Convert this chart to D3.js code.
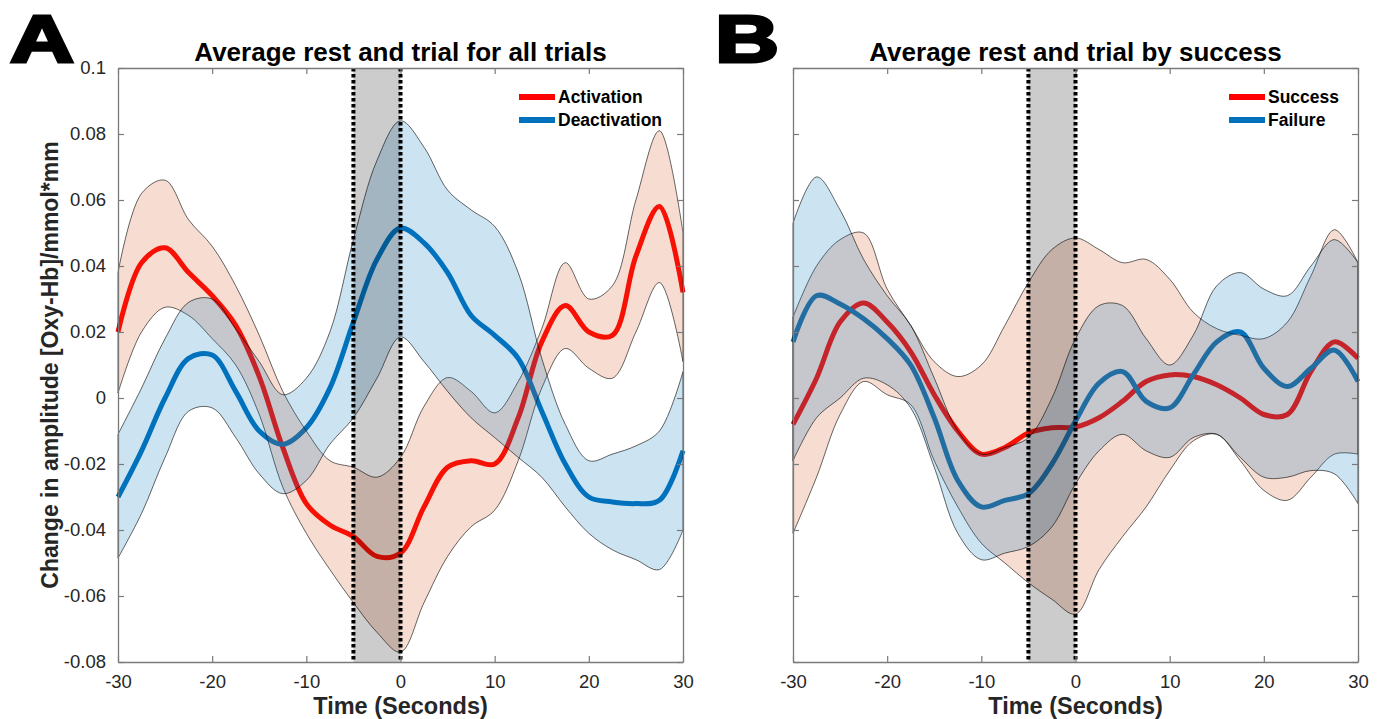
<!DOCTYPE html>
<html>
<head>
<meta charset="utf-8">
<script src="https://cdn.jsdelivr.net/npm/d3@7"></script>
<style>
  body { margin: 0; background: #fff; }
  text { font-family: "Liberation Sans", Arial, sans-serif; }
</style>
</head>
<body>
<svg id="chart"></svg>
<script>
// time axis (seconds), shared by both panels
var time = [-30, -27.5, -25, -22.5, -20, -17.5, -15, -12.5, -10, -7.5, -5, -2.5, 0,
            2.5, 5, 7.5, 10, 12.5, 15, 17.5, 20, 22.5, 25, 27.5, 30];

// panel A - all trials
var activationMean = [0.020, 0.041, 0.0455, 0.038, 0.031, 0.022, 0.0065, -0.015, -0.032, -0.0385, -0.042, -0.048, -0.047,
                      -0.033, -0.021, -0.019, -0.020, -0.006, 0.017, 0.028, 0.020, 0.019, 0.043, 0.058, 0.032];
var activationHigh = [0.038, 0.062, 0.066, 0.054, 0.046, 0.034, 0.019, 0.002, -0.010, -0.019, -0.021, -0.024, -0.018,
                      -0.0025, 0.0062, 0.002, -0.0045, 0.005, 0.021, 0.041, 0.030, 0.034, 0.060, 0.081, 0.050];
var activationLow  = [0.0015, 0.020, 0.0275, 0.025, 0.018, 0.010, -0.005, -0.027, -0.041, -0.052, -0.062, -0.071, -0.077,
                      -0.062, -0.048, -0.039, -0.034, -0.019, 0.003, 0.015, 0.009, 0.006, 0.020, 0.035, 0.011];
var deactivationMean = [-0.030, -0.016, 0.000, 0.012, 0.013, 0.002, -0.010, -0.014, -0.009, 0.003, 0.023, 0.042, 0.0515,
                        0.047, 0.038, 0.025, 0.019, 0.012, -0.004, -0.020, -0.030, -0.0315, -0.032, -0.031, -0.016];
var deactivationHigh = [-0.011, 0.003, 0.018, 0.029, 0.030, 0.021, 0.011, 0.001, 0.006, 0.020, 0.048, 0.072, 0.084,
                        0.076, 0.063, 0.057, 0.052, 0.038, 0.012, -0.008, -0.019, -0.017, -0.0145, -0.010, 0.008];
var deactivationLow  = [-0.0485, -0.035, -0.018, -0.004, -0.003, -0.012, -0.023, -0.029, -0.025, -0.014, -0.006, 0.006, 0.0185,
                        0.011, 0.002, -0.006, -0.012, -0.018, -0.024, -0.033, -0.041, -0.046, -0.049, -0.052, -0.040];

// panel B - by success
var successMean = [-0.008, 0.006, 0.023, 0.0288, 0.023, 0.014, 0.001, -0.010, -0.017, -0.015, -0.0106, -0.009, -0.0088,
                   -0.006, -0.001, 0.005, 0.007, 0.0065, 0.004, 0.000, -0.005, -0.005, 0.008, 0.017, 0.012];
var successHigh = [0.0245, 0.040, 0.048, 0.050, 0.033, 0.022, 0.011, 0.0065, 0.010, 0.022, 0.035, 0.045, 0.0485,
                   0.045, 0.041, 0.042, 0.036, 0.026, 0.021, 0.019, 0.018, 0.023, 0.037, 0.051, 0.041];
var successLow  = [-0.041, -0.024, -0.005, 0.005, 0.001, -0.002, -0.019, -0.033, -0.044, -0.050, -0.056, -0.061, -0.0655,
                   -0.052, -0.042, -0.033, -0.022, -0.013, -0.011, -0.019, -0.028, -0.031, -0.024, -0.017, -0.017];
var failureMean = [0.017, 0.031, 0.0285, 0.024, 0.018, 0.010, -0.006, -0.025, -0.033, -0.031, -0.029, -0.020, -0.007,
                   0.0045, 0.008, -0.001, -0.003, 0.007, 0.017, 0.020, 0.009, 0.0035, 0.009, 0.0145, 0.005];
var failureHigh = [0.053, 0.067, 0.057, 0.042, 0.031, 0.022, 0.006, -0.010, -0.017, -0.015, -0.012, 0.000, 0.018,
                   0.028, 0.028, 0.018, 0.010, 0.019, 0.034, 0.038, 0.033, 0.031, 0.040, 0.048, 0.041];
var failureLow  = [-0.019, -0.006, 0.000, 0.006, 0.004, -0.003, -0.021, -0.041, -0.049, -0.047, -0.045, -0.039, -0.026,
                   -0.016, -0.011, -0.016, -0.018, -0.012, -0.011, -0.018, -0.024, -0.024, -0.022, -0.023, -0.032];

var xTicks = [-30, -20, -10, 0, 10, 20, 30];
var yTicks = [-0.08, -0.06, -0.04, -0.02, 0, 0.02, 0.04, 0.06, 0.08, 0.1];
var window0 = [-5, 0];   // shaded rest -> trial window

var width = 1379, height = 719;
var svg = d3.select("#chart")
    .attr("width", width)
    .attr("height", height);

var plotTop = 68, plotBottom = 662;

function fmt(d) {
    return String(+d.toFixed(2));
}

function panel(opts) {
    var x = d3.scaleLinear().domain([-30, 30]).range([opts.left, opts.right]);
    var y = d3.scaleLinear().domain([-0.08, 0.1]).range([plotBottom, plotTop]);
    var g = svg.append("g");

    var line = d3.line()
        .x((d, i) => x(time[i]))
        .y(d => y(d))
        .curve(d3.curveCatmullRom.alpha(0.5));

    var area = d3.area()
        .x((d, i) => x(time[i]))
        .y0(d => y(d[0]))
        .y1(d => y(d[1]))
        .curve(d3.curveCatmullRom.alpha(0.5));

    // lines first, the shaded errors are laid over them
    opts.series.forEach(s => {
        g.append("path")
            .datum(s.mean)
            .attr("d", line)
            .attr("fill", "none")
            .attr("stroke", s.color)
            .attr("stroke-width", 5);
    });
    opts.series.forEach(s => {
        g.append("path")
            .datum(s.low.map((v, i) => [v, s.high[i]]))
            .attr("d", area)
            .attr("fill", s.band)
            .attr("fill-opacity", 0.2)
            .attr("stroke", "#000")
            .attr("stroke-width", 0.6);
    });

    // grey window
    g.append("rect")
        .attr("x", x(window0[0]))
        .attr("y", plotTop)
        .attr("width", x(window0[1]) - x(window0[0]))
        .attr("height", plotBottom - plotTop)
        .attr("fill", "#000")
        .attr("fill-opacity", 0.2);
    window0.forEach(t => {
        g.append("line")
            .attr("x1", x(t)).attr("x2", x(t))
            .attr("y1", plotTop).attr("y2", plotBottom)
            .attr("stroke", "#000")
            .attr("stroke-width", 4)
            .attr("stroke-dasharray", "3.5,2.5");
    });

    // box axes
    var axisColor = "#7a7a7a";
    var gb = g.append("g").attr("transform", "translate(0," + plotBottom + ")")
        .call(d3.axisBottom(x).tickValues(xTicks).tickSize(-6).tickSizeOuter(0).tickPadding(13).tickFormat(fmt));
    var gt = g.append("g").attr("transform", "translate(0," + plotTop + ")")
        .call(d3.axisTop(x).tickValues(xTicks).tickSize(-6).tickSizeOuter(0).tickFormat(""));
    var gl = g.append("g").attr("transform", "translate(" + opts.left + ",0)")
        .call(d3.axisLeft(y).tickValues(yTicks).tickSize(-6).tickSizeOuter(0).tickPadding(12)
            .tickFormat(opts.yLabels ? fmt : ""));
    var gr = g.append("g").attr("transform", "translate(" + opts.right + ",0)")
        .call(d3.axisRight(y).tickValues(yTicks).tickSize(-6).tickSizeOuter(0).tickFormat(""));
    [gb, gt, gl, gr].forEach(a => {
        a.select(".domain").attr("stroke", axisColor).attr("stroke-width", 1.3);
        a.selectAll(".tick line").attr("stroke", axisColor).attr("stroke-width", 1.2);
        a.selectAll(".tick text")
            .attr("fill", "#262626")
            .style("font-family", "'Liberation Sans', Arial, sans-serif")
            .style("font-size", "18.5px");
    });

    // titles and labels
    g.append("text")
        .attr("x", (opts.left + opts.right) / 2)
        .attr("y", 61)
        .attr("text-anchor", "middle")
        .style("font-size", "26px")
        .style("font-weight", "bold")
        .text(opts.title);
    g.append("text")
        .attr("x", (opts.left + opts.right) / 2)
        .attr("y", 714)
        .attr("text-anchor", "middle")
        .style("font-size", "23.5px")
        .style("font-weight", "bold")
        .attr("fill", "#262626")
        .text("Time (Seconds)");
    g.append("text")
        .attr("x", opts.letterX)
        .attr("y", 62)
        .attr("textLength", 64)
        .attr("lengthAdjust", "spacingAndGlyphs")
        .attr("stroke", "#000")
        .attr("stroke-width", 3)
        .style("font-size", "66px")
        .style("font-weight", "bold")
        .text(opts.letter);

    // legend
    opts.series.forEach((s, i) => {
        var ly = 97 + i * 23;
        g.append("line")
            .attr("x1", opts.legendX).attr("x2", opts.legendX + 36)
            .attr("y1", ly).attr("y2", ly)
            .attr("stroke", s.color)
            .attr("stroke-width", 6);
        g.append("text")
            .attr("x", opts.legendX + 39)
            .attr("y", ly + 6)
            .style("font-size", "17.5px")
            .style("font-weight", "bold")
            .text(s.name);
    });
}

panel({
    left: 118, right: 683, title: "Average rest and trial for all trials",
    letter: "A", letterX: 10, legendX: 519, yLabels: true,
    series: [
        {name: "Activation", mean: activationMean, low: activationLow, high: activationHigh, color: "#ff0000", band: "rgb(217,83,25)"},
        {name: "Deactivation", mean: deactivationMean, low: deactivationLow, high: deactivationHigh, color: "#0072bd", band: "rgb(0,114,189)"}
    ]
});

panel({
    left: 793, right: 1358, title: "Average rest and trial by success",
    letter: "B", letterX: 715, legendX: 1229, yLabels: false,
    series: [
        {name: "Success", mean: successMean, low: successLow, high: successHigh, color: "#ff0000", band: "rgb(217,83,25)"},
        {name: "Failure", mean: failureMean, low: failureLow, high: failureHigh, color: "#0072bd", band: "rgb(0,114,189)"}
    ]
});

// y axis label
svg.append("text")
    .attr("transform", "translate(58,365) rotate(-90)")
    .attr("text-anchor", "middle")
    .attr("fill", "#262626")
    .style("font-size", "23px")
    .style("font-weight", "bold")
    .text("Change in amplitude [Oxy-Hb]/mmol*mm");
</script>
</body>
</html>
